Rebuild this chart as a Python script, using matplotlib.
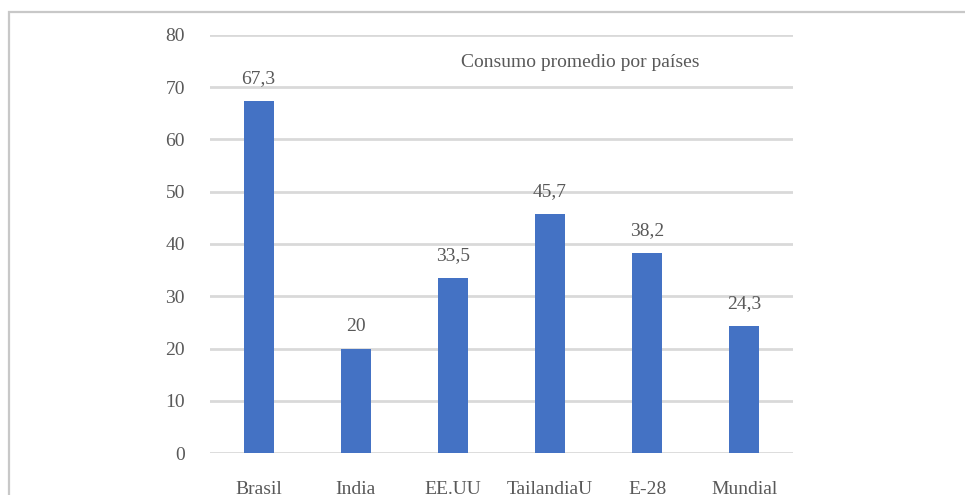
import matplotlib
matplotlib.use("Agg")
import matplotlib.pyplot as plt
from matplotlib.patches import Rectangle

categories = ["Brasil", "India", "EE.UU", "TailandiaU", "E-28", "Mundial"]
values = [67.3, 20, 33.5, 45.7, 38.2, 24.3]
value_labels = ["67,3", "20", "33,5", "45,7", "38,2", "24,3"]
yticks = [0, 10, 20, 30, 40, 50, 60, 70, 80]
title = "Consumo promedio por países"

plt.rcParams['font.family'] = ['Liberation Serif', 'DejaVu Serif']
txt = "#595959"

fig = plt.figure(figsize=(9.65, 4.95), dpi=100)
ax = fig.add_axes([210/965, 1-453/495, (793-210)/965, (453-35)/495])

x = list(range(len(categories)))
bars = ax.bar(x, values, width=0.31, color="#4472C4", zorder=3)
for xi, v, lab in zip(x, values, value_labels):
    ax.annotate(lab, (xi, v), xytext=(0, 10), textcoords="offset points",
                ha="center", va="bottom", fontsize=14, color=txt, zorder=4)

ax.set_ylim(0, 80)
ax.set_xlim(-0.5, len(categories)-0.5)
ax.set_yticks(yticks)
ax.set_xticks(x)
ax.set_xticklabels(categories)
ax.tick_params(axis='both', length=0, labelsize=14, labelcolor=txt)
ax.tick_params(axis='y', pad=18)
ax.tick_params(axis='x', pad=20)
ax.yaxis.grid(True, color="#d9d9d9", linewidth=2, zorder=0)
for s in ax.spines.values():
    s.set_visible(False)

ax.text((580-210)/583, 0.935, title, transform=ax.transAxes, ha="center", va="center",
        fontsize=14, color=txt)

fig.patches.append(Rectangle((9/965, -0.1), 1.2, 1.1 - 12/495,
                             transform=fig.transFigure, fill=False,
                             edgecolor="#c8c8c8", linewidth=1.6))
fig.savefig("out.png", dpi=100)
